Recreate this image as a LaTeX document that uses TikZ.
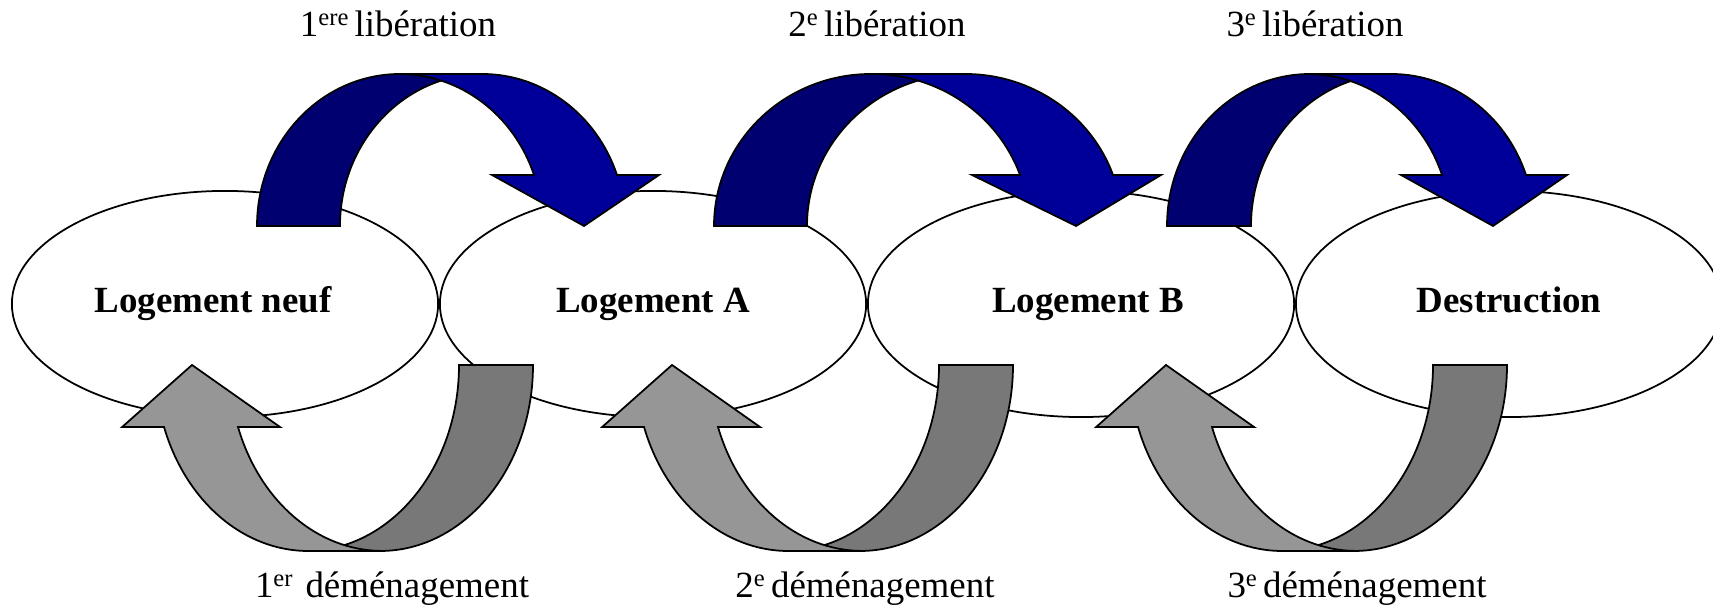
\documentclass[tikz,border=0pt]{standalone}
\usepackage{fontspec}
\setmainfont{Liberation Serif}
\usetikzlibrary{positioning}
\usetikzlibrary{shapes.geometric}

\definecolor{libfront}{RGB}{0,0,153}
\definecolor{libback}{RGB}{0,0,112}
\definecolor{demfront}{RGB}{150,150,150}
\definecolor{demback}{RGB}{120,120,120}

\newcommand{\exposant}[1]{\raisebox{0.3em}{\fontsize{7}{8}\selectfont #1}}

\tikzset{
  logement/.style={draw, line width=0.5pt, ellipse, fill=white, minimum width=4.26cm, minimum height=2.26cm,
    inner sep=0pt, text height=1.5ex, text depth=.5ex, font=\fontsize{10.5}{12.6}\selectfont\bfseries},
  legende/.style={anchor=base, inner sep=0pt, font=\fontsize{10.5}{12.6}\selectfont},
  bande/.style={draw=black, line width=0.5pt}
}

% foot x, width, radius, head-side x, barb, tip x
\newcommand{\liberation}[6]{%
  \filldraw[bande, fill=libback] (#1,381) arc[start angle=180, end angle=90, x radius=#3, y radius=152]
    -- ++(#2,0) arc[start angle=90, end angle=180, x radius=#3, y radius=152] -- cycle;
  \filldraw[bande, fill=libfront] ({#4-0.942*#3-#2},533) -- ++(#2,0)
    arc[start angle=90, end angle=19.6, x radius=#3, y radius=152]
    -- ++(#5,0) -- (#6,381) -- ({#4-#2-#5},432) -- ({#4-#2},432)
    arc[start angle=19.6, end angle=90, x radius=#3, y radius=152] -- cycle;
}
\newcommand{\demenagement}[6]{%
  \filldraw[bande, fill=demback] (#1,242) arc[start angle=0, end angle=-90, x radius=#3, y radius=186]
    -- ++(-#2,0) arc[start angle=-90, end angle=0, x radius=#3, y radius=186] -- cycle;
  \filldraw[bande, fill=demfront] ({#4+0.943*#3+#2},56) -- ++(-#2,0)
    arc[start angle=270, end angle=199.5, x radius=#3, y radius=186]
    -- ++(-#5,0) -- (#6,242) -- ({#4+#2+#5},180) -- ({#4+#2},180)
    arc[start angle=199.5, end angle=270, x radius=#3, y radius=186] -- cycle;
}

\begin{document}
\begin{tikzpicture}[x=0.01cm, y=0.01cm]
  \useasboundingbox (0,0) rectangle (1713,607);

  \node[logement] (neuf) at (225,303) {Logement neuf\hspace*{0.24cm}};
  \node[logement, right=0pt of neuf] (logA) {Logement A};
  \node[logement, right=0pt of logA] (logB) {\hspace*{0.14cm}Logement B};
  \node[logement, right=0pt of logB] (destr) {Destruction};

  \liberation{257}{83}{143}{617}{42}{584}
  \liberation{714}{93}{157}{1113}{48}{1076}
  \liberation{1167}{84}{143}{1526}{41}{1493}

  \demenagement{533}{74}{153}{164}{42}{192}
  \demenagement{1013}{74}{153}{644}{42}{672}
  \demenagement{1507}{74}{153}{1138}{42}{1166}

  \node[legende] (lib1) at (398,570) {1\exposant{ere}\,libération};
  \node[legende] (lib2) at (877,570) {2\exposant{e}\,libération};
  \node[legende] (lib3) at (1315,570) {3\exposant{e}\,libération};
  \node[legende] (dem1) at (392,9) {1\exposant{er}\hspace{0.35em}déménagement};
  \node[legende] (dem2) at (865,9) {2\exposant{e}\,déménagement};
  \node[legende] (dem3) at (1357,9) {3\exposant{e}\,déménagement};
\end{tikzpicture}
\end{document}
